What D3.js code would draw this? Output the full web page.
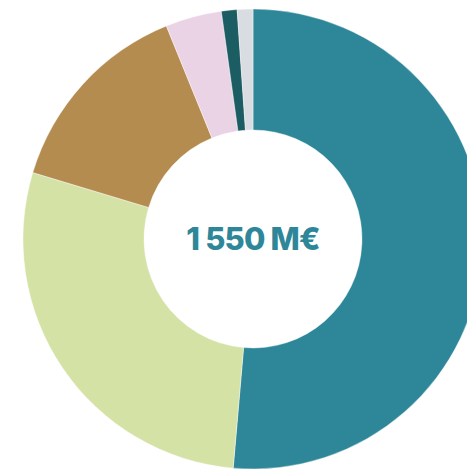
<!DOCTYPE html>
<html><head><meta charset="utf-8">
<script src="https://cdn.jsdelivr.net/npm/d3@7"></script>
<style>html,body{margin:0;padding:0;background:#fff;}svg{display:block;}</style>
</head><body>
<svg id="c" width="467" height="470"></svg>
<script>
const categories = ["A", "B", "C", "D", "E", "F"];
const values = [51.4, 28.3, 14.2, 3.95, 1.1, 1.1];
const colors = ["#2e8799", "#d4e2a6", "#b58c50", "#ebd3e6", "#1c5c63", "#d9dde2"];
const centerLabel = "1 550 M€";

const svg = d3.select("#c");
const cx = 253, cy = 239, rOuter = 230, rInner = 109;
const g = svg.append("g").attr("transform", `translate(${cx},${cy})`);
const pie = d3.pie().sort(null).value(d => d.v);
const arc = d3.arc().innerRadius(rInner).outerRadius(rOuter);
const data = categories.map((c, i) => ({c, v: values[i], col: colors[i]}));
g.selectAll("path").data(pie(data)).join("path")
  .attr("d", arc).attr("fill", d => d.data.col)
  .attr("stroke", "#fff").attr("stroke-width", 0.4);
g.append("text").attr("x", 0).attr("y", 11)
  .attr("text-anchor", "middle")
  .attr("font-family", "Inter, Liberation Sans, Arial, sans-serif")
  .attr("font-weight", 800).attr("font-size", 31)
  .attr("letter-spacing", -0.8)
  .attr("fill", "#2e8799").text(centerLabel);
</script>
</body></html>
